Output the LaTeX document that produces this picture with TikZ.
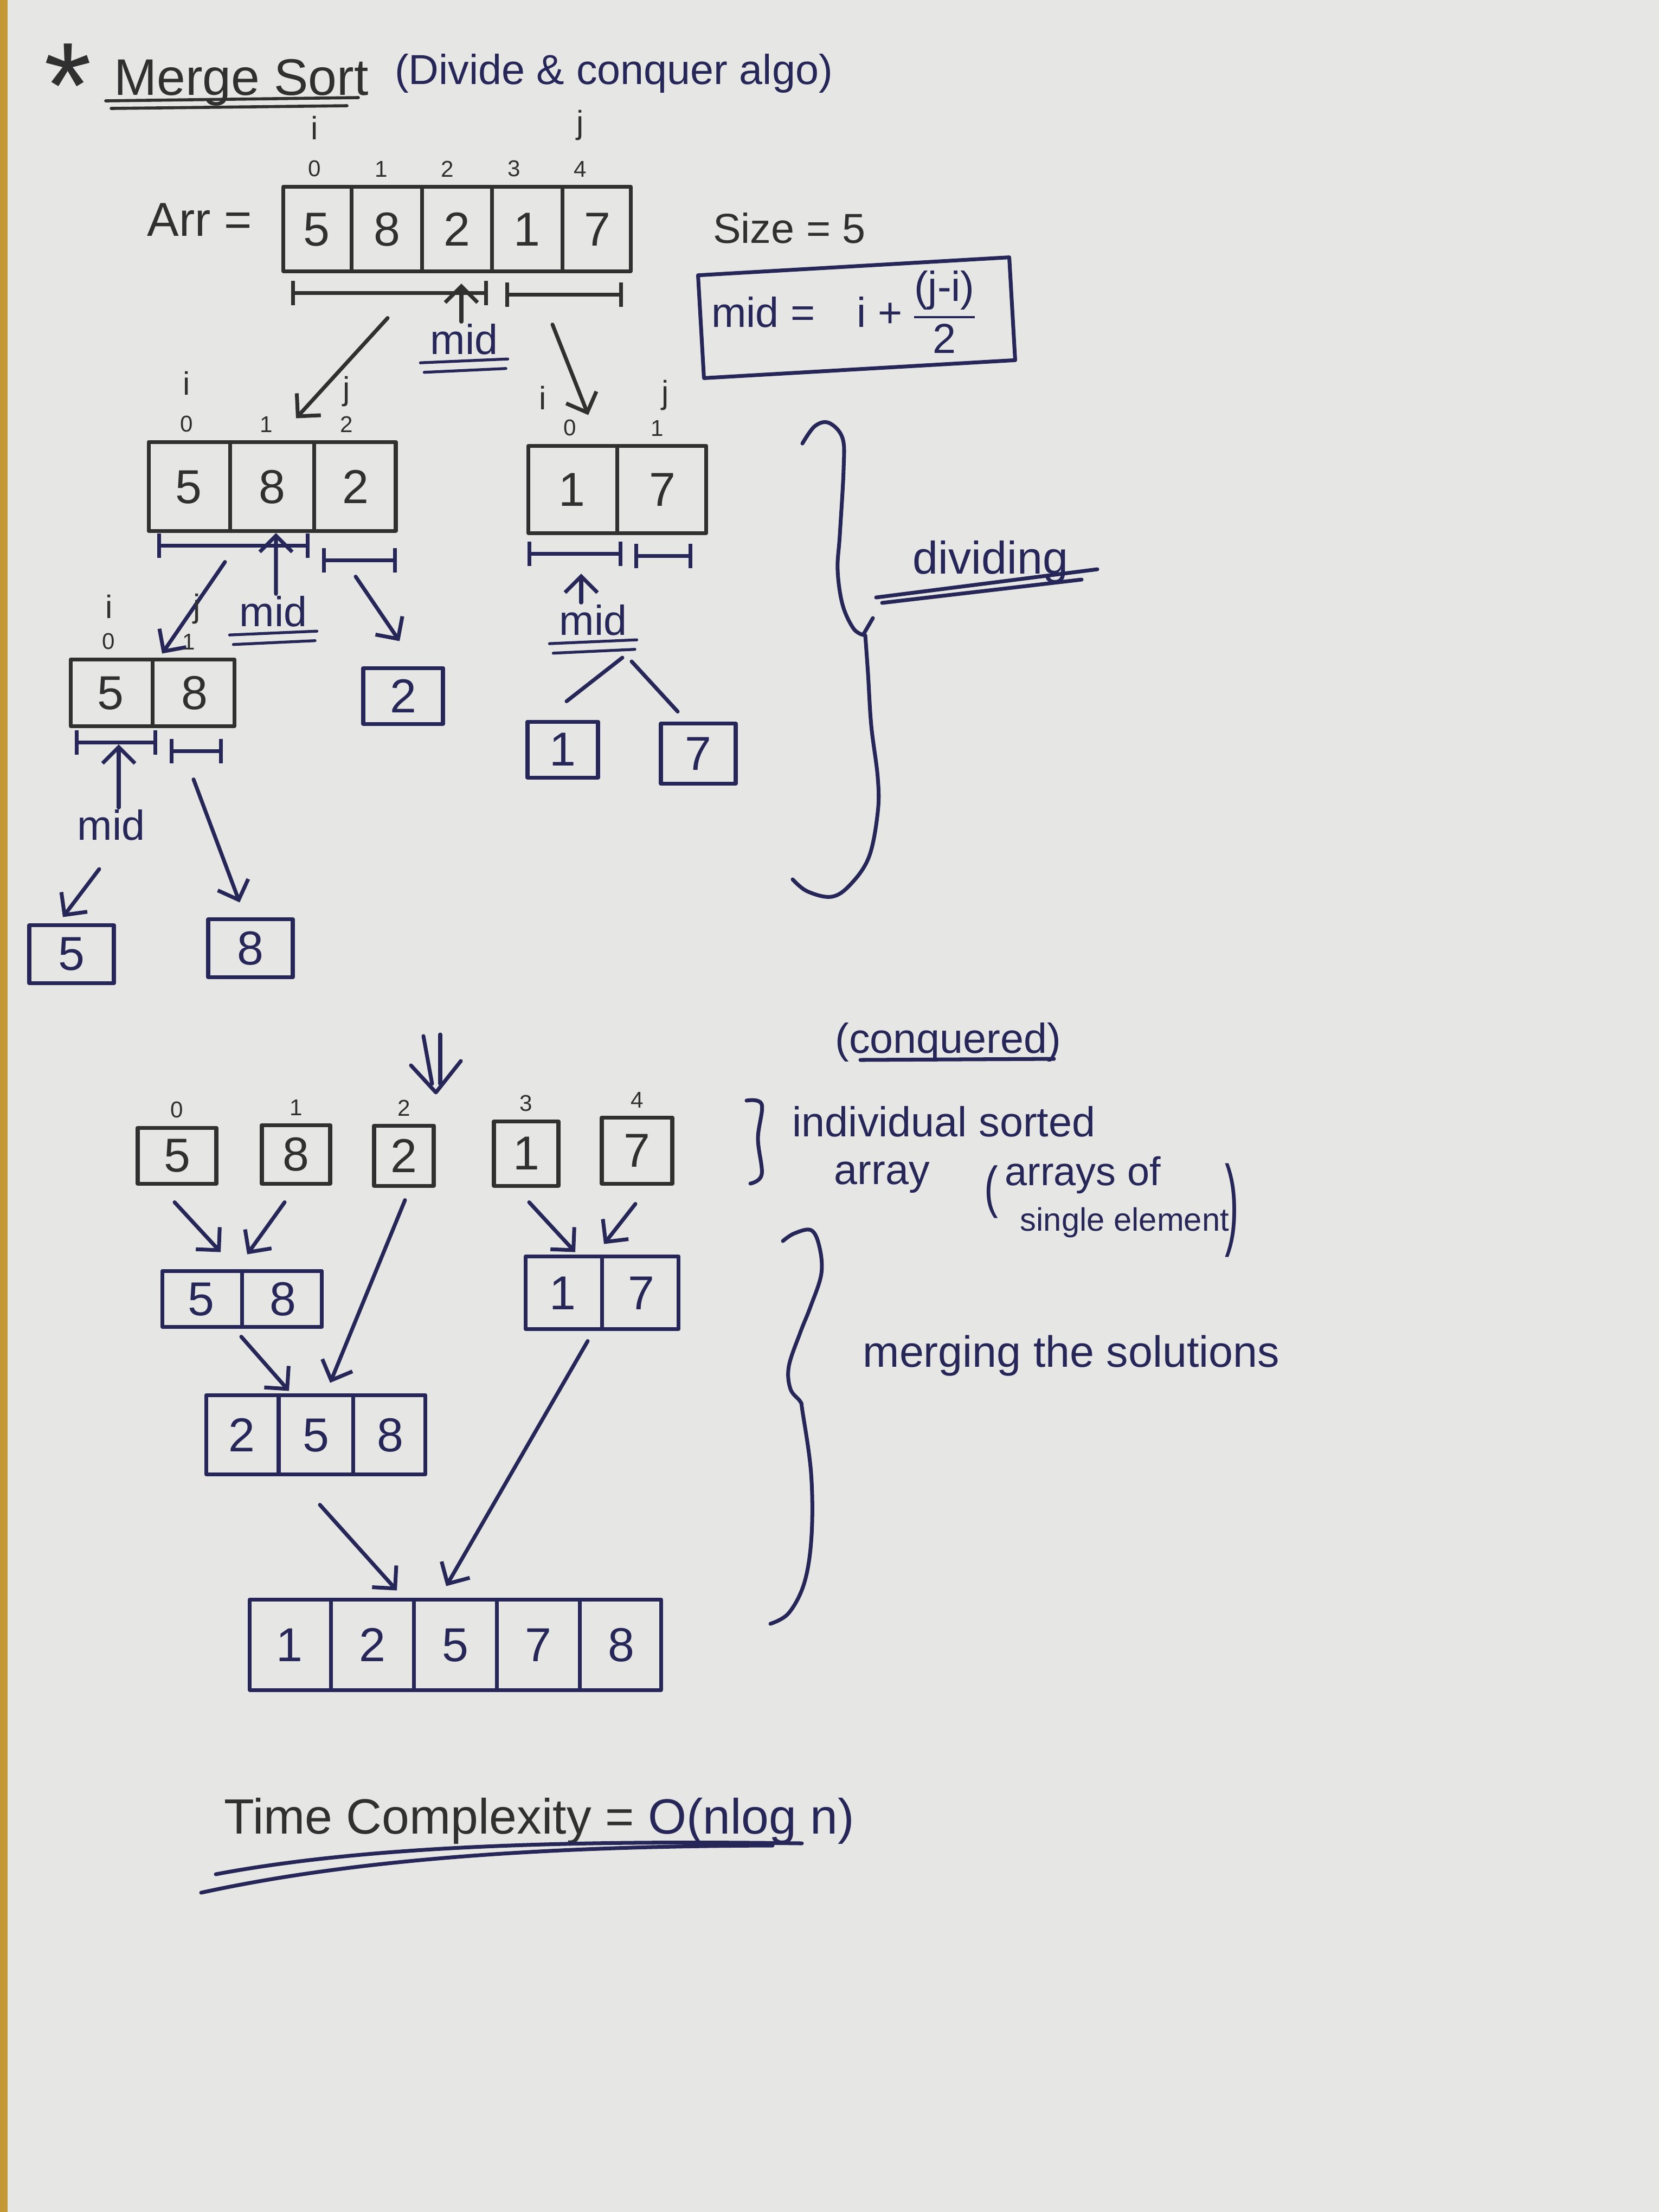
\documentclass[tikz,border=0pt]{standalone}
\usepackage{fontspec}
\setmainfont{Liberation Sans}
\usepackage{array}
\usepackage{tikz}
\usetikzlibrary{arrows.meta,positioning,shapes}

\definecolor{paperbg}{RGB}{230,230,228}
\definecolor{deskedge}{RGB}{196,150,52}
\definecolor{leadgrey}{RGB}{48,48,48}
\definecolor{penblue}{RGB}{38,38,88}

\newcolumntype{C}[1]{>{\centering\arraybackslash}p{#1}}
\setlength{\tabcolsep}{0pt}
\setlength{\arrayrulewidth}{2pt}

% one row of cells: #1 = cells-1, #2 = cell width, #3 = row height, #4 = entries
\newcommand{\cellrow}[4]{{\renewcommand{\arraystretch}{0}%
  \begin{tabular}{@{}*{#1}{C{#2}|}C{#2}@{}}%
    \rule[-\dimexpr(#3-0.62cm)/2\relax]{0pt}{#3}#4%
  \end{tabular}}}

% double underline below a node
\newcommand{\dunder}[1]{%
  \draw[penblue, line width=1.5pt, line cap=round] ([xshift=-4pt,yshift=-3pt]#1.south west) -- ([xshift=4pt,yshift=-1pt]#1.south east);
  \draw[penblue, line width=1.5pt, line cap=round] ([xshift=-2pt,yshift=-8pt]#1.south west) -- ([xshift=3pt,yshift=-6pt]#1.south east);}

\tikzset{
  ink/.style={line width=2pt, line cap=round, line join=round},
  arrbox/.style={draw, ink, inner sep=0pt, font=\fontsize{25}{30}\selectfont},
  leaf/.style={draw, ink, inner sep=0pt, minimum width=1.35cm, minimum height=1.1cm, font=\fontsize{25}{30}\selectfont},
  idx/.style={leadgrey, font=\fontsize{12}{14}\selectfont, inner sep=1pt},
  ptr/.style={leadgrey, font=\fontsize{17}{20}\selectfont, inner sep=1pt},
  midlbl/.style={penblue, font=\fontsize{22}{26}\selectfont, inner sep=1pt},
  remark/.style={penblue, font=\fontsize{22}{26}\selectfont, inner sep=0pt},
  harrow/.style={ink, -{Straight Barb[length=3mm, width=6mm]}},
  rangebar/.style={ink, {Bar[width=4.5mm]}-{Bar[width=4.5mm]}},
}

\begin{document}
\begin{tikzpicture}
	% sheet
	\fill[paperbg] (0,0) rectangle (30.6,-40.8);
	\fill[deskedge] (0,0) rectangle (0.14,-40.8);
	\useasboundingbox (0,0) rectangle (30.6,-40.8);

	% heading
	\node[leadgrey, font=\fontsize{64}{64}\selectfont, anchor=base] (star) at (1.25,-2.35) {*};
	\node[leadgrey, font=\fontsize{27}{30}\selectfont, anchor=base] (title) at (4.45,-1.75) {Merge Sort};
	\draw[leadgrey, line width=1.6pt, line cap=round] (1.95,-1.86) -- (6.61,-1.80);
	\draw[leadgrey, line width=1.6pt, line cap=round] (2.05,-2.00) -- (6.40,-1.95);
	\node[penblue, font=\fontsize{22}{26}\selectfont, anchor=base] (subtitle) at (11.32,-1.55) {(Divide \& conquer algo)};

	% input array
	\node[leadgrey, font=\fontsize{25}{30}\selectfont, anchor=base] (arrname) at (3.68,-4.35) {Arr =};
	\node[arrbox, leadgrey] (arr) at (8.43,-4.22) {\cellrow{4}{1.224cm}{1.56cm}{5&8&2&1&7}};
	\foreach \k in {0,...,4}
		\node[idx, above=1mm] (arri\k) at ([xshift={(\k+0.5)*1.224cm}]arr.north west) {\k};
	\node[ptr, above=3mm of arri0] (arrp) {i};
	\node[ptr, above=3mm of arri4] (arrq) {j};
	\node[leadgrey, font=\fontsize{22}{26}\selectfont, anchor=base] (size) at (14.56,-4.48) {Size = 5};

	\draw[rangebar, leadgrey] (5.37,-5.40) -- (9.00,-5.40);
	\draw[rangebar, leadgrey] (9.32,-5.43) -- (11.49,-5.43);
	\node[midlbl] (mid1) at (8.56,-6.26) {mid};
	\dunder{mid1}
	\coordinate (mid1tip) at (8.51,-5.23);
	\draw[harrow, leadgrey] ([xshift=-0.05cm]mid1.north) -- (mid1tip);

	% formula
	\node[draw, ink, penblue, rotate=3.3, minimum width=5.75cm, minimum height=1.9cm] (fbox) at (15.80,-5.86) {};
	\node[penblue, font=\fontsize{22}{26}\selectfont] (formula) at (15.55,-5.85) {mid =\quad i + {\setlength{\arrayrulewidth}{1.4pt}\begin{tabular}{@{}c@{}}(j-i)\\\hline 2\end{tabular}}};

	% first split
	\node[arrbox, leadgrey] (l1) at (5.02,-8.97) {\cellrow{2}{1.473cm}{1.64cm}{5&8&2}};
	\node[arrbox, leadgrey] (r1) at (11.385,-9.025) {\cellrow{1}{1.605cm}{1.61cm}{1&7}};
	\draw[harrow, leadgrey] ([shift={(-1.28,-0.83)}]arr.south) -- ([shift={(0.44,0.40)}]l1.north);
	\draw[harrow, leadgrey] ([shift={(1.76,-0.95)}]arr.south) -- ([shift={(-0.535,0.53)}]r1.north);
	\foreach \k in {0,1,2}
		\node[idx, above=1mm] (l1i\k) at ([xshift={(\k+0.5)*1.473cm}]l1.north west) {\k};
	\node[ptr, above=3mm of l1i0] (l1p) {i};
	\node[ptr, above=1mm of l1i2] (l1q) {j};
	\foreach \k in {0,1}
		\node[idx, above=1mm] (r1i\k) at ([xshift={(\k+0.5)*1.605cm}]r1.north west) {\k};
	\node[ptr, above=1mm of r1i0, xshift=-0.5cm] (r1p) {i};
	\node[ptr, above=1mm of r1i1, xshift=0.15cm] (r1q) {j};

	\draw[rangebar, penblue] (2.90,-10.06) -- (5.71,-10.06);
	\draw[rangebar, penblue] (5.94,-10.33) -- (7.32,-10.33);
	\node[midlbl] (mid2) at (5.04,-11.28) {mid};
	\dunder{mid2}
	\coordinate (mid2tip) at (5.09,-9.83);
	\draw[harrow, penblue] ([xshift=0.05cm]mid2.north) -- (mid2tip);

	\draw[rangebar, penblue] (9.73,-10.21) -- (11.48,-10.21);
	\draw[rangebar, penblue] (11.70,-10.25) -- (12.77,-10.25);
	\node[midlbl] (mid4) at (10.94,-11.44) {mid};
	\dunder{mid4}
	\coordinate (mid4tip) at (10.72,-10.58);
	\draw[harrow, penblue] ([xshift=-0.22cm]mid4.north) -- (mid4tip);

	% second split
	\node[arrbox, leadgrey] (l2) at (2.815,-12.775) {\cellrow{1}{1.475cm}{1.23cm}{5&8}};
	\node[leaf, penblue, minimum width=1.47cm, minimum height=1.03cm] (leaf2) at (7.435,-12.835) {2};
	\draw[harrow, penblue] ([shift={(-0.87,-0.54)}]l1.south) -- ([shift={(0.175,0.07)}]l2.north);
	\draw[harrow, penblue] ([shift={(1.54,-0.81)}]l1.south) -- ([shift={(-0.065,0.46)}]leaf2.north);
	\foreach \k in {0,1}
		\node[idx, above=1mm] (l2i\k) at ([xshift={(\k+0.5)*1.475cm}]l2.north west) {\k};
	\node[ptr, above=2mm of l2i0] (l2p) {i};
	\node[ptr, above=1mm of l2i1, xshift=0.15cm] (l2q) {j};

	\draw[rangebar, penblue] (1.38,-13.69) -- (2.90,-13.69);
	\draw[rangebar, penblue] (3.13,-13.85) -- (4.11,-13.85);
	\node[midlbl] (mid3) at (2.05,-15.22) {mid};
	\coordinate (mid3tip) at (2.19,-13.73);
	\draw[harrow, penblue] ([xshift=0.14cm]mid3.north) -- (mid3tip);

	\node[leaf, penblue, minimum width=1.56cm, minimum height=1.07cm] (leaf5) at (1.32,-17.60) {5};
	\node[leaf, penblue, minimum width=1.56cm, minimum height=1.07cm] (leaf8) at (4.62,-17.49) {8};
	\draw[harrow, penblue] ([shift={(-0.22,-0.81)}]mid3.center) -- ([shift={(-0.16,0.115)}]leaf5.north);
	\draw[harrow, penblue] ([shift={(0.755,-0.95)}]l2.south) -- ([shift={(-0.20,0.275)}]leaf8.north);

	\node[leaf, penblue, minimum width=1.30cm, minimum height=1.03cm] (leaf1) at (10.38,-13.825) {1};
	\node[leaf, penblue, minimum width=1.38cm, minimum height=1.11cm] (leaf7) at (12.88,-13.90) {7};
	\draw[ink, penblue] ([shift={(0.54,-0.69)}]mid4.center) -- ([shift={(0.07,0.34)}]leaf1.north);
	\draw[ink, penblue] ([shift={(0.71,-0.76)}]mid4.center) -- ([shift={(-0.38,0.185)}]leaf7.north);

	% dividing brace
	\draw[ink, penblue] plot[smooth, tension=0.6] coordinates {(14.80,-8.18) (15.03,-7.86) (15.29,-7.80) (15.54,-8.08) (15.56,-8.66) (15.49,-9.87) (15.45,-10.51) (15.54,-11.15) (15.74,-11.59) (15.92,-11.71)};
	\draw[ink, penblue] (15.92,-11.71) -- (16.10,-11.40);
	\draw[ink, penblue] plot[smooth, tension=0.6] coordinates {(15.96,-11.72) (16.01,-12.42) (16.07,-13.38) (16.19,-14.34) (16.19,-14.98) (16.03,-15.80) (15.69,-16.31) (15.34,-16.54) (14.89,-16.44) (14.62,-16.22)};
	\node[remark, font=\fontsize{24}{28}\selectfont, anchor=base] (divlbl) at (18.27,-10.58) {dividing};
	\draw[ink, penblue] (16.16,-11.02) -- (20.24,-10.50);
	\draw[ink, penblue] (16.27,-11.12) -- (19.95,-10.69);

	% conquer step
	\draw[ink, penblue] (7.81,-19.11) -- (7.97,-19.99);
	\draw[ink, penblue] (8.12,-19.08) -- (8.12,-19.99);
	\draw[ink, penblue] (7.58,-19.65) -- (8.04,-20.15) -- (8.50,-19.57);

	\node[leaf, leadgrey, minimum width=1.45cm, minimum height=1.03cm] (b0) at (3.265,-21.315) {5};
	\node[leaf, leadgrey, minimum width=1.26cm, minimum height=1.08cm] (b1) at (5.46,-21.29) {8};
	\node[leaf, leadgrey, minimum width=1.10cm, minimum height=1.11cm] (b2) at (7.45,-21.315) {2};
	\node[leaf, leadgrey, minimum width=1.19cm, minimum height=1.19cm] (b3) at (9.705,-21.275) {1};
	\node[leaf, leadgrey, minimum width=1.30cm, minimum height=1.22cm] (b4) at (11.75,-21.22) {7};
	\foreach \k in {0,...,4}
		\node[idx, above=1mm of b\k] (bi\k) {\k};

	\node[remark, anchor=base] (conq) at (17.49,-19.42) {(conquered)};
	\draw[ink, penblue] (15.87,-19.55) -- (19.44,-19.53);
	\draw[ink, penblue] plot[smooth, tension=0.6] coordinates {(13.77,-20.30) (14.05,-20.37) (13.98,-21.00) (14.05,-21.66) (13.84,-21.83)};
	\node[remark, anchor=base west] (indiv) at (14.61,-20.96) {individual sorted};
	\node[remark, anchor=base west] (arrword) at (15.38,-21.84) {array};
	\node[remark, anchor=base] (lpar) at (18.28,-22.25) {\scalebox{1}[1.35]{(}};
	\node[remark, font=\fontsize{21}{24}\selectfont, anchor=base west] (arrsof) at (18.53,-21.86) {arrays of};
	\node[remark, font=\fontsize{17}{20}\selectfont, anchor=base west] (selem) at (18.81,-22.70) {single element};
	\node[remark, anchor=base] (rpar) at (22.72,-22.80) {\scalebox{1}[2.4]{)}};

	% merging
	\node[arrbox, penblue] (m1) at (4.465,-23.955) {\cellrow{1}{1.435cm}{1.03cm}{5&8}};
	\node[arrbox, penblue] (m2) at (11.105,-23.84) {\cellrow{1}{1.375cm}{1.34cm}{1&7}};
	\node[arrbox, penblue] (m3) at (5.825,-26.46) {\cellrow{2}{1.30cm}{1.46cm}{2&5&8}};
	\node[arrbox, penblue] (fin) at (8.40,-30.335) {\cellrow{4}{1.46cm}{1.67cm}{1&2&5&7&8}};

	\draw[harrow, penblue] ([shift={(-0.045,-0.31)}]b0.south) -- ([shift={(-0.395,0.31)}]m1.north);
	\draw[harrow, penblue] ([shift={(-0.21,-0.31)}]b1.south) -- ([shift={(0.095,0.27)}]m1.north);
	\draw[harrow, penblue] ([shift={(0.02,-0.23)}]b2.south) -- ([shift={(0.265,0.19)}]m3.north);
	\draw[harrow, penblue] ([shift={(0.055,-0.27)}]b3.south) -- ([shift={(-0.495,0.04)}]m2.north);
	\draw[harrow, penblue] ([shift={(-0.03,-0.34)}]b4.south) -- ([shift={(0.035,0.19)}]m2.north);
	\draw[harrow, penblue] ([shift={(-0.015,-0.15)}]m1.south) -- ([shift={(-0.495,0.04)}]m3.north);
	\draw[harrow, penblue] ([shift={(0.075,-0.53)}]m3.south) -- ([shift={(-1.08,0.13)}]fin.north);
	\draw[harrow, penblue] ([shift={(-0.265,-0.19)}]m2.south) -- ([shift={(-0.17,0.21)}]fin.north);

	% merging brace
	\draw[ink, penblue] plot[smooth, tension=0.6] coordinates {(14.44,-22.89) (14.65,-22.75) (14.96,-22.69) (15.11,-22.98) (15.15,-23.49) (14.95,-24.10) (14.76,-24.58) (14.55,-25.20) (14.58,-25.62) (14.76,-25.85) (14.80,-26.02) (14.96,-27.17) (14.97,-28.31) (14.84,-29.18) (14.55,-29.75) (14.21,-29.95)};
	\node[remark, font=\fontsize{23}{27}\selectfont, anchor=base west] (mergelbl) at (15.91,-25.21) {merging the solutions};

	% complexity
	\node[remark, font=\fontsize{26}{30}\selectfont, anchor=base] (tc) at (9.95,-33.82) {\textcolor{leadgrey}{Time Complexity =} O(nlog n)};
	\draw[ink, penblue] (3.98,-34.57) .. controls (7.0,-34.0) and (11.0,-33.95) .. (14.79,-34.00);
	\draw[ink, penblue] (3.71,-34.91) .. controls (6.5,-34.3) and (10.0,-34.05) .. (14.25,-34.04);
\end{tikzpicture}
\end{document}
